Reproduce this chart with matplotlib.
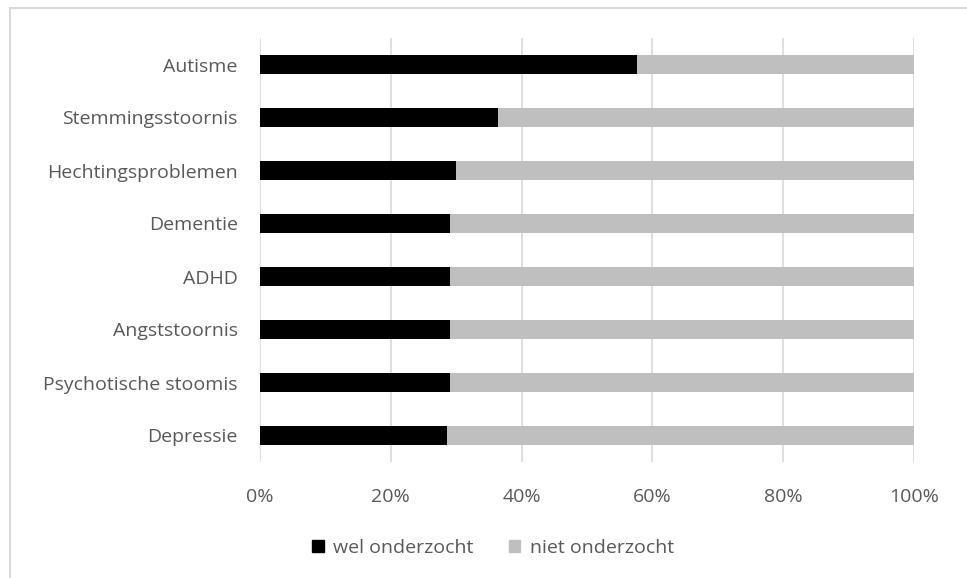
import matplotlib.pyplot as plt
from matplotlib.patches import Rectangle, Patch
from matplotlib.ticker import FuncFormatter

categories = ["Depressie", "Psychotische stoomis", "Angststoornis", "ADHD",
              "Dementie", "Hechtingsproblemen", "Stemmingsstoornis", "Autisme"]
wel = [28.6, 29.1, 29.1, 29.1, 29.1, 30.0, 36.4, 57.7]
niet = [100 - v for v in wel]
labels = ["wel onderzocht", "niet onderzocht"]
xticks = [0, 20, 40, 60, 80, 100]

plt.rcParams['font.family'] = ['Open Sans', 'DejaVu Sans']
txt = '#595959'
grid = '#d9d9d9'

fig = plt.figure(figsize=(9.67, 5.78), dpi=100)
ax = fig.add_axes([260 / 967, 1 - 462 / 578, 654 / 967, 424 / 578])

ypos = range(len(categories))
ax.barh(ypos, wel, height=0.36, color='#000000', label=labels[0])
ax.barh(ypos, niet, left=wel, height=0.36, color='#bfbfbf', label=labels[1])

ax.set_xlim(0, 100)
ax.set_ylim(-0.5, len(categories) - 0.5)
ax.set_xticks(xticks)
ax.xaxis.set_major_formatter(FuncFormatter(lambda v, p: f"{v:.0f}%"))
ax.set_yticks(list(ypos))
ax.set_yticklabels(categories)
ax.tick_params(axis='both', length=0, labelsize=14, colors=txt)
ax.tick_params(axis='x', pad=19)
ax.tick_params(axis='y', pad=16)
ax.grid(axis='x', color=grid, linewidth=1.2)
ax.set_axisbelow(True)
for s in ax.spines.values():
    s.set_visible(False)

# outer chart frame (only top and left visible in reference)
fig.patches.append(Rectangle((10 / 967, -0.1), 1.2, 1 - 8 / 578 + 0.1,
                             transform=fig.transFigure, fill=False,
                             edgecolor=grid, linewidth=1.5))

handles = [Patch(color='#000000'), Patch(color='#bfbfbf')]
fig.legend(handles, labels, loc='center', bbox_to_anchor=(493 / 967, 1 - 548 / 578),
           ncol=2, frameon=False, fontsize=14, labelcolor=txt,
           handlelength=0.6, handleheight=0.6, handletextpad=0.5, columnspacing=1.8)

fig.savefig('out.png', dpi=100)
